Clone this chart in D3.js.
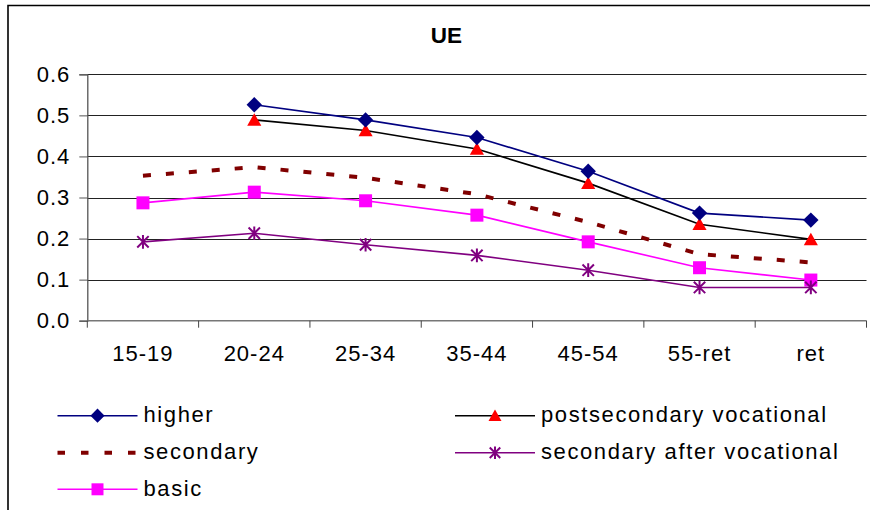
<!DOCTYPE html>
<html>
<head>
<meta charset="utf-8">
<script src="https://cdn.jsdelivr.net/npm/d3@7"></script>
<style>
  html, body { margin: 0; padding: 0; background: #fff; }
  svg { display: block; font-family: "Liberation Sans", Arial, sans-serif; }
</style>
</head>
<body>
<svg id="chart" width="872" height="510"></svg>
<script>
// Unemployment by age group and education level
const categories = ["15-19", "20-24", "25-34", "35-44", "45-54", "55-ret", "ret"];
const higher = [null, 0.526, 0.489, 0.446, 0.364, 0.262, 0.245];
const postsecondaryVocational = [null, 0.489, 0.463, 0.418, 0.335, 0.235, 0.198];
const secondary = [0.353, 0.374, 0.348, 0.308, 0.240, 0.162, 0.142];
const secondaryAfterVocational = [0.192, 0.213, 0.185, 0.159, 0.123, 0.081, 0.081];
const basic = [0.287, 0.313, 0.292, 0.257, 0.192, 0.129, 0.099];
const yTicks = [0, 0.1, 0.2, 0.3, 0.4, 0.5, 0.6];
const title = "UE";

const svg = d3.select("#chart");
const plotLeft = 87.3, plotRight = 866.5, plotTop = 74.3, plotBottom = 320.7;

const x = d3.scaleBand().domain(categories).range([plotLeft, plotRight]);
const y = d3.scaleLinear().domain([0, 0.6]).range([plotBottom, plotTop]);

// Chart frame (top and left edges)
svg.append("path")
  .attr("d", "M8,520 L8,5.5 L870,5.5")
  .attr("fill", "none").attr("stroke", "#000").attr("stroke-width", 1.6);

// Title
svg.append("text")
  .attr("x", 446.5).attr("y", 43)
  .attr("text-anchor", "middle")
  .attr("font-size", 22.5).attr("font-weight", "bold")
  .text(title);

// Horizontal gridlines
svg.append("g").selectAll("line")
  .data(yTicks.filter(d => d > 0))
  .join("line")
  .attr("x1", plotLeft).attr("x2", plotRight)
  .attr("y1", d => Math.round(y(d)) + 0.5).attr("y2", d => Math.round(y(d)) + 0.5)
  .attr("stroke", "#222").attr("stroke-width", 1);

// Y axis
const yAxis = d3.axisLeft(y).tickValues(yTicks).tickFormat(d3.format(".1f")).tickSize(8).tickPadding(9);
const gy = svg.append("g").attr("transform", `translate(${plotLeft},0)`).call(yAxis);
gy.select(".domain").attr("stroke", "#555").attr("stroke-width", 1.3);
gy.selectAll(".tick line").attr("stroke", "#555");
gy.selectAll("text").attr("font-size", 22).attr("fill", "#000")
  .style("letter-spacing", "1px")
  .attr("font-family", "Liberation Sans, Arial, sans-serif");

// X axis with tick marks at category boundaries
const gx = svg.append("g").attr("transform", `translate(0,${plotBottom})`);
gx.append("line").attr("x1", plotLeft).attr("x2", plotRight)
  .attr("stroke", "#777").attr("stroke-width", 1.6);
const bounds = categories.map(c => x(c)).concat([x(categories[categories.length - 1]) + x.bandwidth()]);
gx.selectAll("line.tk").data(bounds).join("line").attr("class", "tk")
  .attr("x1", d => d).attr("x2", d => d).attr("y1", 0).attr("y2", 7)
  .attr("stroke", "#444").attr("stroke-width", 1);
gx.selectAll("text").data(categories).join("text")
  .attr("x", d => x(d) + x.bandwidth() / 2).attr("y", 40)
  .attr("text-anchor", "middle").attr("font-size", 22)
  .style("letter-spacing", "1px")
  .text(d => d);

// Marker shapes
const diamond = { draw(ctx, size) { const r = Math.sqrt(size) / 1.3; ctx.moveTo(0, -r); ctx.lineTo(r, 0); ctx.lineTo(0, r); ctx.lineTo(-r, 0); ctx.closePath(); } };
const triangle = { draw(ctx, size) { const r = Math.sqrt(size) / 2; ctx.moveTo(0, -r * 1.05); ctx.lineTo(r * 1.1, r * 0.9); ctx.lineTo(-r * 1.1, r * 0.9); ctx.closePath(); } };
const square = { draw(ctx, size) { const r = Math.sqrt(size) / 2; ctx.rect(-r, -r, 2 * r, 2 * r); } };
const star = { draw(ctx, size) { const r = Math.sqrt(size) / 2; ctx.moveTo(-r, -r); ctx.lineTo(r, r); ctx.moveTo(r, -r); ctx.lineTo(-r, r); ctx.moveTo(0, -r * 1.2); ctx.lineTo(0, r * 1.2); } };

const series = [
  { name: "higher", values: higher, line: "#000080", width: 1.6, dash: null, marker: diamond, size: 100, fill: "#000080", stroke: null },
  { name: "postsecondary vocational", values: postsecondaryVocational, line: "#000", width: 1.6, dash: null, marker: triangle, size: 165, fill: "#ff0000", stroke: null },
  { name: "secondary", values: secondary, line: "#800000", width: 4, dash: "8 15", marker: null },
  { name: "secondary after vocational", values: secondaryAfterVocational, line: "#800080", width: 1.6, dash: null, marker: star, size: 130, fill: "none", stroke: "#800080" },
  { name: "basic", values: basic, line: "#ff00ff", width: 1.6, dash: null, marker: square, size: 169, fill: "#ff00ff", stroke: null }
];

const line = d3.line()
  .defined(d => d.v != null)
  .x(d => x(d.c) + x.bandwidth() / 2)
  .y(d => y(d.v));

// Draw lower series first so the upper ones sit above
const drawOrder = [series[2], series[4], series[3], series[1], series[0]];
drawOrder.forEach(s => {
  const pts = categories.map((c, i) => ({ c, v: s.values[i] }));
  svg.append("path").datum(pts)
    .attr("d", line).attr("fill", "none")
    .attr("stroke", s.line).attr("stroke-width", s.width)
    .attr("stroke-dasharray", s.dash);
  if (s.marker) {
    svg.append("g").selectAll("path").data(pts.filter(d => d.v != null)).join("path")
      .attr("transform", d => `translate(${x(d.c) + x.bandwidth() / 2},${y(d.v)})`)
      .attr("d", d3.symbol(s.marker, s.size))
      .attr("fill", s.fill)
      .attr("stroke", s.stroke || "none").attr("stroke-width", 2);
  }
});

// Legend, two columns
const legendPos = [
  { col: 0, row: 0 }, { col: 1, row: 0 }, { col: 0, row: 1 }, { col: 1, row: 1 }, { col: 0, row: 2 }
];
const colX = [57.5, 455], rowY = [415.7, 452.7, 489.3];
const lg = svg.append("g");
series.forEach((s, i) => {
  const p = legendPos[i];
  const x0 = colX[p.col], yy = rowY[p.row];
  const g = lg.append("g").attr("transform", `translate(${x0},${yy})`);
  if (s.dash) {
    g.append("line").attr("x1", 0).attr("x2", 80).attr("y1", 0).attr("y2", 0)
      .attr("stroke", s.line).attr("stroke-width", 4).attr("stroke-dasharray", "7.5 16");
  } else {
    g.append("line").attr("x1", 0).attr("x2", 80).attr("y1", 0).attr("y2", 0)
      .attr("stroke", s.line).attr("stroke-width", s.width);
    g.append("path").attr("transform", "translate(40,0)")
      .attr("d", d3.symbol(s.marker, s.size * 0.85))
      .attr("fill", s.fill).attr("stroke", s.stroke || "none").attr("stroke-width", 2);
  }
  g.append("text").attr("x", 86).attr("y", 6.5)
    .attr("font-size", 22).style("letter-spacing", "1.6px")
    .text(s.name);
});
</script>
</body>
</html>
